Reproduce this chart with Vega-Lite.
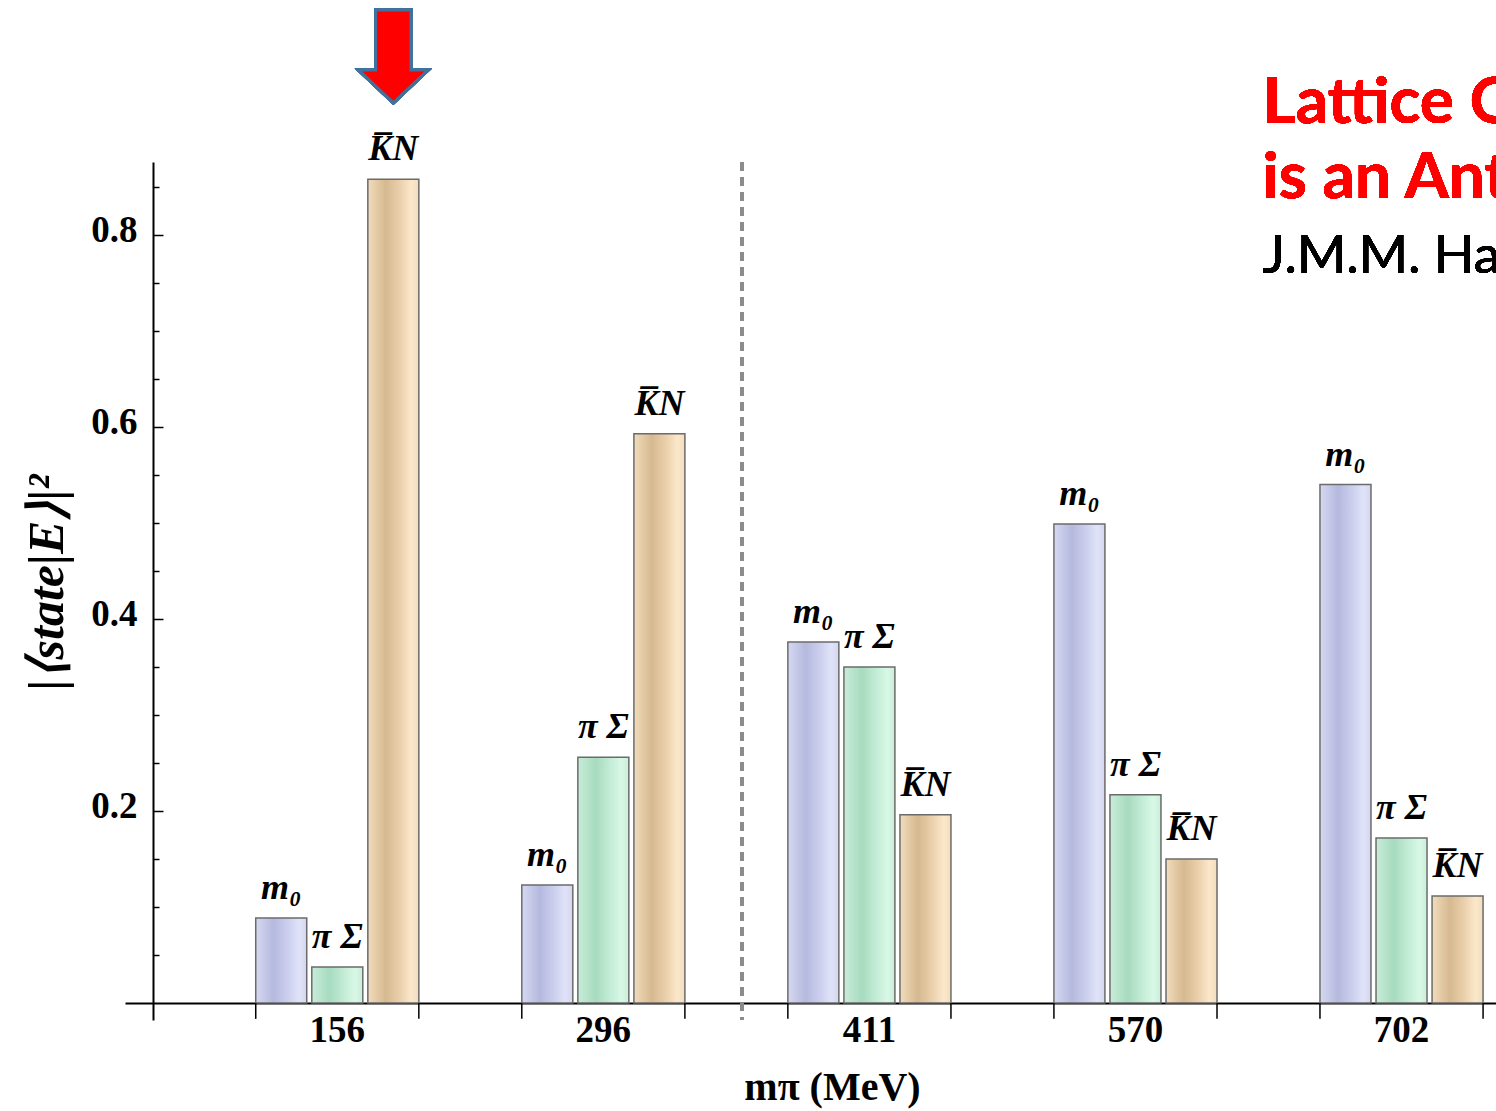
{
  "$schema": "https://vega.github.io/schema/vega-lite/v6.json",
  "autosize": {"type": "none"},
  "width": 1371,
  "height": 858,
  "padding": {"left": 125, "top": 162, "right": 0, "bottom": 91},
  "background": "white",
  "config": {"view": {"stroke": null}, "font": "Liberation Serif"},
  "data": {
    "values": [
      {"mpi": "156", "state": "m₀", "value": 0.0885},
      {"mpi": "156", "state": "π Σ", "value": 0.0375},
      {"mpi": "156", "state": "K̅N", "value": 0.858},
      {"mpi": "296", "state": "m₀", "value": 0.123},
      {"mpi": "296", "state": "π Σ", "value": 0.256},
      {"mpi": "296", "state": "K̅N", "value": 0.593},
      {"mpi": "411", "state": "m₀", "value": 0.376},
      {"mpi": "411", "state": "π Σ", "value": 0.350},
      {"mpi": "411", "state": "K̅N", "value": 0.196},
      {"mpi": "570", "state": "m₀", "value": 0.499},
      {"mpi": "570", "state": "π Σ", "value": 0.217},
      {"mpi": "570", "state": "K̅N", "value": 0.150},
      {"mpi": "702", "state": "m₀", "value": 0.540},
      {"mpi": "702", "state": "π Σ", "value": 0.172},
      {"mpi": "702", "state": "K̅N", "value": 0.1115}
    ]
  },
  "layer": [
    {
      "mark": {"type": "bar", "stroke": "#6b6b6b", "strokeWidth": 1.5},
      "encoding": {
        "x": {
          "field": "mpi", "type": "nominal",
          "scale": {"paddingInner": 0.387, "paddingOuter": 0.27, "align": 0.91},
          "axis": {
            "title": "mπ (MeV)", "orient": "bottom", "offset": -17, "ticks": false,
            "labelAngle": 0, "labelPadding": 9, "labelFont": "Liberation Serif",
            "labelFontSize": 37, "labelFontWeight": "bold", "labelColor": "black",
            "domainColor": "black", "domainWidth": 2, "grid": false,
            "titleFont": "Liberation Serif", "titleFontSize": 40, "titleFontWeight": "bold",
            "titleColor": "black", "titleX": 707, "titleY": 96, "titleBaseline": "alphabetic",
            "titleAlign": "center"
          }
        },
        "xOffset": {
          "field": "state", "type": "nominal",
          "scale": {"domain": ["m₀", "π Σ", "K̅N"], "paddingInner": 0.09}
        },
        "y": {
          "field": "value", "type": "quantitative",
          "scale": {"domain": [-0.0177, 0.876], "nice": false, "zero": false},
          "axis": {
            "title": "|⟨state|E⟩|²",
            "values": [0.05, 0.1, 0.15, 0.2, 0.25, 0.3, 0.35, 0.4, 0.45, 0.5, 0.55, 0.6, 0.65, 0.7, 0.75, 0.8, 0.85],
            "offset": -28,
            "tickSize": {"condition": {"test": "abs(datum.value*5 - round(datum.value*5)) < 0.001", "value": -10}, "value": -6},
            "labelExpr": "abs(datum.value*5 - round(datum.value*5)) < 0.001 ? format(datum.value, '.1f') : ''",
            "labelPadding": 26, "labelOverlap": false, "labelOffset": -4,
            "labelFont": "Liberation Serif", "labelFontSize": 37, "labelFontWeight": "bold", "labelColor": "black",
            "domainColor": "black", "domainWidth": 2, "tickColor": "black", "tickWidth": 1.5, "grid": false,
            "titleFont": "Liberation Serif", "titleFontSize": 50, "titleFontWeight": "bold", "titleFontStyle": "italic",
            "titleColor": "black", "titleX": -106, "titleY": 420, "titleBaseline": "middle", "titleAngle": -90, "titleAlign": "center"
          }
        },
        "fill": {
          "condition": [
            {"test": "datum.state === 'm₀'", "value": {"gradient": "linear", "x1": 0, "x2": 1, "y1": 0, "y2": 0, "stops": [
              {"offset": 0, "color": "#d6d9f1"}, {"offset": 0.35, "color": "#b5b9de"}, {"offset": 0.6, "color": "#c9cceb"}, {"offset": 0.85, "color": "#e0e3f8"}, {"offset": 1, "color": "#d3d6ef"}]}},
            {"test": "datum.state === 'π Σ'", "value": {"gradient": "linear", "x1": 0, "x2": 1, "y1": 0, "y2": 0, "stops": [
              {"offset": 0, "color": "#c8ecd8"}, {"offset": 0.35, "color": "#a7dbbf"}, {"offset": 0.6, "color": "#c0ead3"}, {"offset": 0.85, "color": "#d8f8e6"}, {"offset": 1, "color": "#c9eed9"}]}}
          ],
          "value": {"gradient": "linear", "x1": 0, "x2": 1, "y1": 0, "y2": 0, "stops": [
            {"offset": 0, "color": "#f1dcbc"}, {"offset": 0.35, "color": "#d6b990"}, {"offset": 0.6, "color": "#e8cda8"}, {"offset": 0.85, "color": "#fbe7ca"}, {"offset": 1, "color": "#f3ddbd"}]}
        }
      }
    },
    {
      "mark": {"type": "text", "dy": -19, "baseline": "alphabetic", "align": "center", "font": "Liberation Serif", "fontSize": 36, "fontWeight": "bold", "fontStyle": "italic", "color": "black"},
      "encoding": {
        "x": {"field": "mpi", "type": "nominal"},
        "xOffset": {"field": "state", "type": "nominal", "scale": {"domain": ["m₀", "π Σ", "K̅N"]}},
        "y": {"field": "value", "type": "quantitative", "scale": {"domain": [-0.0177, 0.876], "nice": false, "zero": false}},
        "text": {"field": "state"}
      }
    },
    {
      "transform": [{"filter": "datum.state === 'm₀'"}],
      "mark": {"type": "rule", "color": "black", "strokeWidth": 1.5},
      "encoding": {
        "x": {"field": "mpi", "type": "nominal", "bandPosition": 0},
        "y": {"datum": 0, "scale": {"domain": [-0.0177, 0.876], "nice": false, "zero": false}},
        "y2": {"datum": -0.0165}
      }
    },
    {
      "transform": [{"filter": "datum.state === 'm₀'"}],
      "mark": {"type": "rule", "color": "black", "strokeWidth": 1.5},
      "encoding": {
        "x": {"field": "mpi", "type": "nominal", "bandPosition": 1},
        "y": {"datum": 0, "scale": {"domain": [-0.0177, 0.876], "nice": false, "zero": false}},
        "y2": {"datum": -0.0165}
      }
    },
    {
      "mark": {"type": "rule", "color": "#8c8c8c", "strokeWidth": 3, "strokeDash": [9, 6]},
      "encoding": {
        "x": {"datum": "411", "bandPosition": -0.28}
      }
    },
    {
      "mark": {"type": "point", "shape": "M -0.38 -1 L 0.38 -1 L 0.38 0.29 L 0.75 0.29 L 0 1 L -0.75 0.29 L -0.38 0.29 Z", "size": 8649, "filled": true, "fill": "#ff0000", "stroke": "#41719c", "strokeWidth": 3, "opacity": 1},
      "encoding": {
        "x": {"datum": "156"},
        "xOffset": {"datum": "K̅N", "scale": {"domain": ["m₀", "π Σ", "K̅N"]}},
        "y": {"datum": 0.986, "scale": {"domain": [-0.0177, 0.876], "nice": false, "zero": false}}
      }
    },
    {
      "mark": {"type": "text", "text": "Lattice QCD: Λ(1405)", "align": "left", "baseline": "alphabetic", "font": "Lato", "fontSize": 64, "fontWeight": "bold", "color": "#ff0000"},
      "encoding": {
        "x": {"datum": "570", "bandPosition": 1.279},
        "y": {"datum": 0.9167, "scale": {"domain": [-0.0177, 0.876], "nice": false, "zero": false}}
      }
    },
    {
      "mark": {"type": "text", "text": "is an Antikaon-Nucleon Molecule", "align": "left", "baseline": "alphabetic", "font": "Lato", "fontSize": 64, "fontWeight": "bold", "color": "#ff0000"},
      "encoding": {
        "x": {"datum": "570", "bandPosition": 1.279},
        "y": {"datum": 0.8385, "scale": {"domain": [-0.0177, 0.876], "nice": false, "zero": false}}
      }
    },
    {
      "mark": {"type": "text", "text": "J.M.M. Hall et al., PRL 114 (2015)", "align": "left", "baseline": "alphabetic", "font": "Lato", "fontSize": 53, "fontWeight": "normal", "color": "black"},
      "encoding": {
        "x": {"datum": "570", "bandPosition": 1.279},
        "y": {"datum": 0.7604, "scale": {"domain": [-0.0177, 0.876], "nice": false, "zero": false}}
      }
    }
  ]
}
